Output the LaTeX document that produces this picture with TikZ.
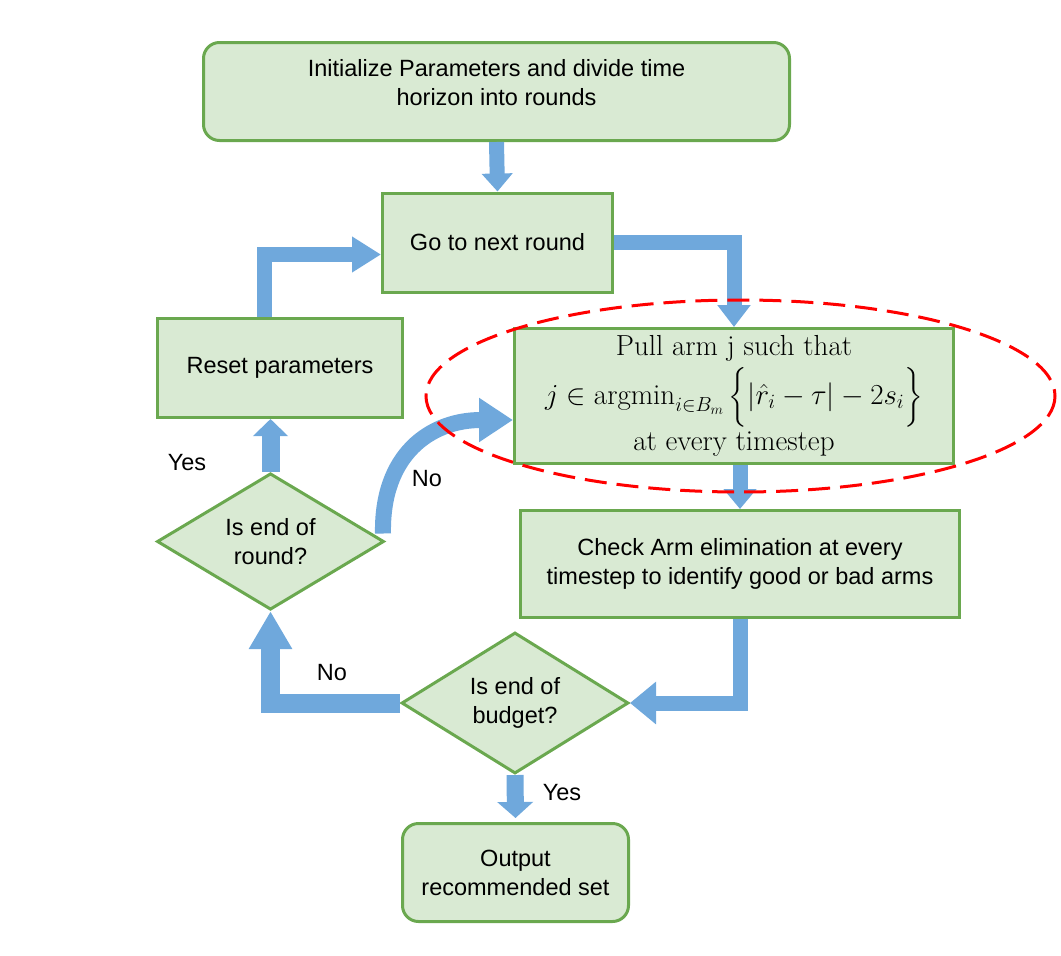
\RequirePackage{fix-cm}
\documentclass[tikz,border=0pt]{standalone}
\usepackage{amsmath}
\usepackage{fontspec}
\usepackage{xcolor}
\usepackage{tikz}
\usetikzlibrary{shapes.geometric,arrows.meta}
\newfontfamily\arialfont{Liberation Sans}
\definecolor{boxgreen}{HTML}{D9EAD3}
\definecolor{linegreen}{HTML}{6AA84F}
\definecolor{flowblue}{HTML}{6FA8DC}

\tikzset{
    procbox/.style={draw=linegreen, fill=boxgreen, line width=3pt, align=center,
        inner sep=0pt, font=\arialfont\fontsize{23.5}{29}\selectfont},
    endbox/.style={procbox, rounded corners=16pt},
    decision/.style={procbox, diamond},
    flow/.style={draw=flowblue, line width=15pt, line join=miter,
        -{Triangle[width=32pt,length=22pt]}},
    lbl/.style={font=\arialfont\fontsize{23.5}{29}\selectfont, inner sep=0pt}
}

\begin{document}
\begin{tikzpicture}[x=1pt,y=-1pt]
\useasboundingbox (0,0) rectangle (1061,956);
% boxes
\node[endbox, minimum width=586pt, minimum height=98pt, text depth=19pt] (init) at (496.5,91.5)
    {Initialize Parameters and divide time\\horizon into rounds};
\node[procbox, minimum width=230pt, minimum height=99pt] (go) at (497.5,242.5) {Go to next round};
\node[procbox, minimum width=245pt, minimum height=99pt] (reset) at (280,368) {Reset parameters};
\node[procbox, minimum width=439pt, minimum height=135pt, font=\fontsize{29}{46}\selectfont] (pull) at (734,396)
    {Pull arm j such that\\[3pt]
     $j\in\mathrm{argmin}_{i\in B_m}\,\Big\{|\hat{r}_i-\tau|-2s_i\Big\}$\\
     at every timestep};
\node[procbox, minimum width=439pt, minimum height=107pt] (check) at (740,564)
    {Check Arm elimination at every\\timestep to identify good or bad arms};
\node[decision, minimum width=227pt, minimum height=107pt] (round) at (270.5,541.5) {Is end of\\round?};
\node[decision, minimum width=227pt, minimum height=108pt] (budget) at (515,703) {Is end of\\budget?};
\node[endbox, minimum width=226pt, minimum height=98pt] (output) at (515.5,872.5) {Output\\recommended set};

% connectors
\draw[flow, -{Triangle[width=30pt,length=18pt]}] (init.south) -- (go.north);
\draw[flow] (go.east) -| (pull.north);
\draw[flow, line width=15pt, -{Triangle[width=32pt,length=20pt]}] (pull.south -| check.north) -- (check.north);
\draw[flow, -{Triangle[width=41pt,length=26pt]}] (check.south) |- (budget.east);
\draw[flow, line width=19pt, -{Triangle[width=41pt,length=38pt]}] (budget.west) -| (round.south);
\draw[flow, line width=18pt, -{Triangle[width=34pt,length=17pt]}] (round.north) -- (round.north |- reset.south);
\draw[flow, -{Triangle[width=34pt,length=29pt]}] ([xshift=-15.5pt]reset.north) |- ([yshift=-12pt]go.west);
\draw[flow, line width=16pt, -{Triangle[width=42pt,length=34pt]}] ([xshift=-2.5pt,yshift=8pt]round.east)
    .. controls (381.5,455) and (430,420) .. ([yshift=-24pt]pull.west);
\draw[flow, line width=17pt, -{Triangle[width=35pt,length=16pt]}] (budget.south) -- ([yshift=4pt]output.north);

% labels
\node[lbl] (yesround) at (187,463) {Yes};
\node[lbl] (noround) at (427,479) {No};
\node[lbl] (nobudget) at (332,673) {No};
\node[lbl] (yesbudget) at (562,793) {Yes};

% highlight
\draw[red, line width=3pt, dash pattern=on 22pt off 10pt] (740.5,396) ellipse (314.5 and 96);
\end{tikzpicture}
\end{document}
